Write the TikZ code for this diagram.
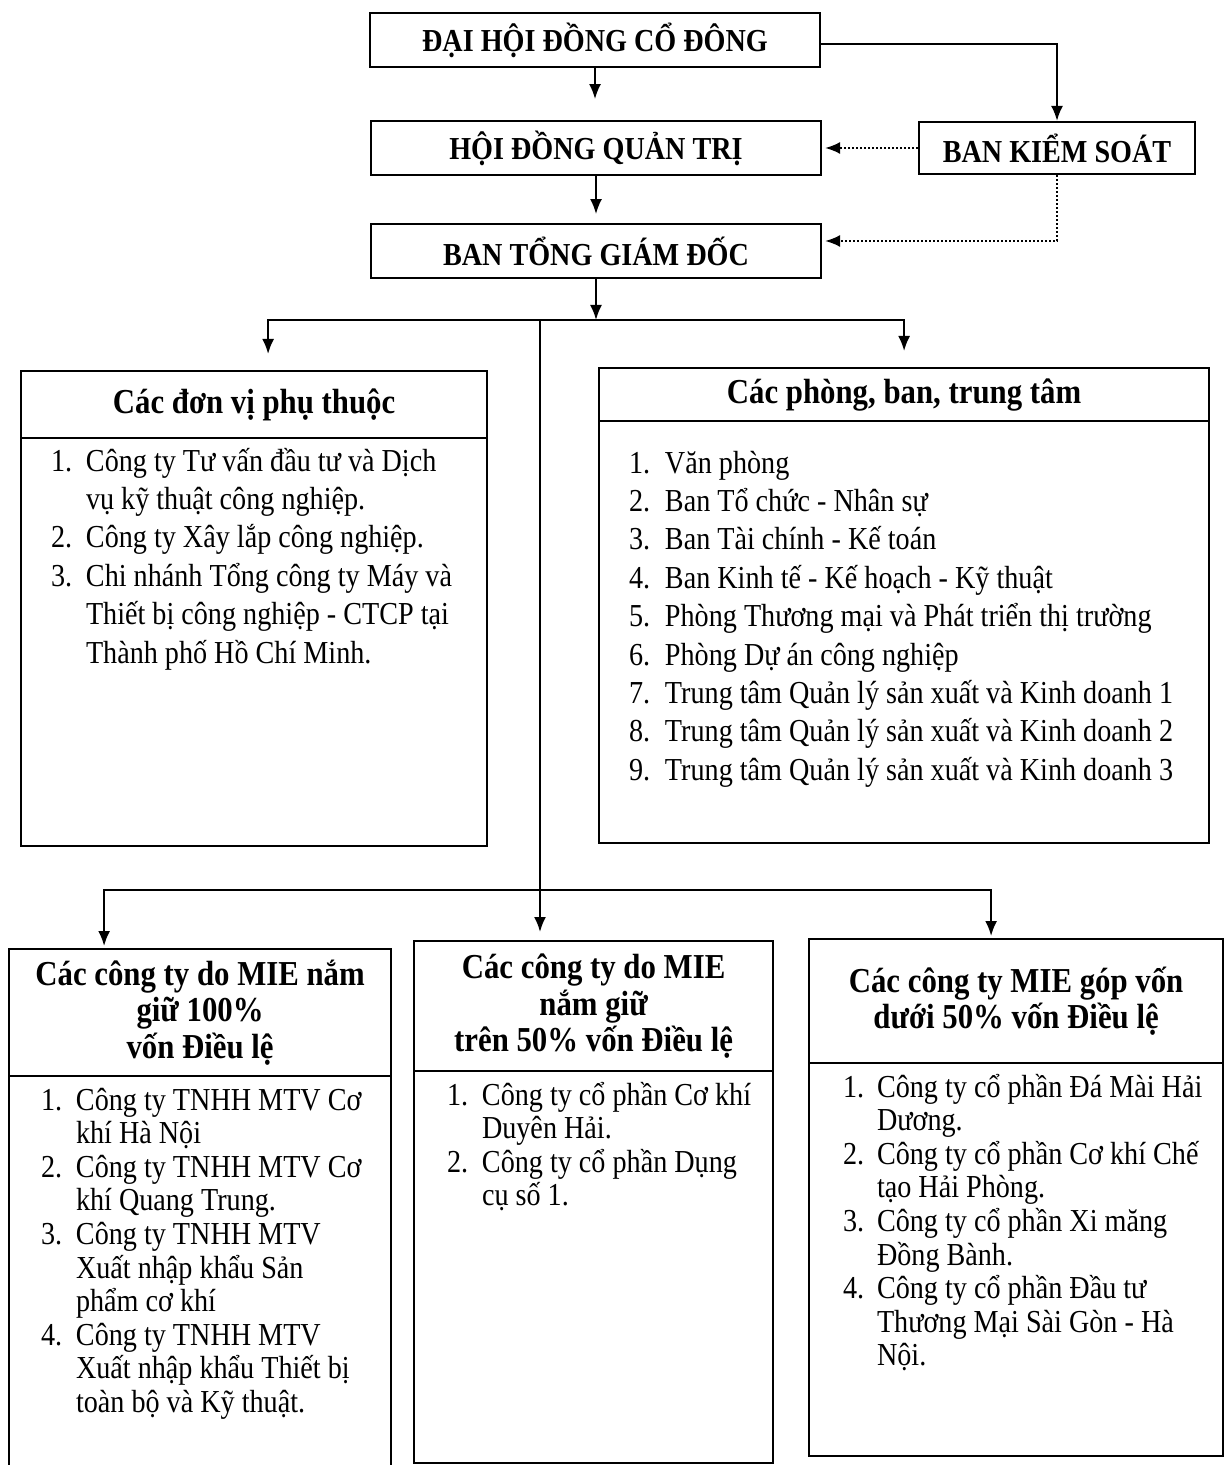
\documentclass[tikz,border=0pt]{standalone}
\usepackage{fontspec}
\setmainfont[FakeStretch=0.88]{Liberation Serif}
\usetikzlibrary{arrows.meta}

\begin{document}
\begin{tikzpicture}[x=0.5pt,y=-0.5pt,line width=1pt,
    >={Latex[length=7.5pt,width=6pt]},
    hop/.style={draw,line width=1.1pt,inner sep=0pt},
    tren/.style={hop,font=\fontsize{16}{18}\selectfont\bfseries,minimum height=27pt},
    tde/.style={hop,anchor=north west,align=center,font=\fontsize{17.5}{18.3}\selectfont\bfseries},
    than/.style={hop,anchor=north west},
    ds/.style={anchor=base west,inner sep=0pt,font=\fontsize{16}{19.2}\selectfont},
    dsn/.style={anchor=base west,inner sep=0pt,font=\fontsize{16}{16.8}\selectfont},
    ks/.style={dash pattern=on 1pt off 1pt,line width=1pt}]
\useasboundingbox (0,0) rectangle (1225,1465);

% khoi lanh dao
\node[tren,minimum width=225pt] (dhdcd) at (595,40) {ĐẠI HỘI ĐỒNG CỔ ĐÔNG};
\node[tren,minimum width=225pt] (hdqt) at (596,148) {HỘI ĐỒNG QUẢN TRỊ};
\node[tren,minimum width=138pt,minimum height=26pt] (bks) at (1057,148) {BAN KIỂM SOÁT};
\node[tren,minimum width=225pt] (btgd) at (596,251) {BAN TỔNG GIÁM ĐỐC};

\draw[->] (dhdcd.south) -- +(0,31);
\draw[->] ([yshift=-2pt]dhdcd.east) -| (bks.north);
\draw[->] (hdqt.south) -- +(0,38);
\draw[ks,->,shorten >=1.5pt] (bks.west) -- (hdqt.east);
\draw[ks,->,shorten >=1.5pt] (bks.south) |- ([yshift=5pt]btgd.east);

% don vi phu thuoc
\node[tde,minimum width=233pt,minimum height=33.5pt] (dvhead) at (20,370) {Các đơn vị phụ thuộc};
\node[than,minimum width=233pt,minimum height=204pt] (dvbody) at (20,437) {};
\node[ds] (dvlist) at (50,471) {\begin{tabular}[t]{@{}p{17.5pt}@{}l@{}}
1. & Công ty Tư vấn đầu tư và Dịch\\
   & vụ kỹ thuật công nghiệp.\\
2. & Công ty Xây lắp công nghiệp.\\
3. & Chi nhánh Tổng công ty Máy và\\
   & Thiết bị công nghiệp - CTCP tại\\
   & Thành phố Hồ Chí Minh.
\end{tabular}};

% phong ban
\node[tde,minimum width=305pt,minimum height=26.5pt] (pbhead) at (598,367) {Các phòng, ban, trung tâm};
\node[than,minimum width=305pt,minimum height=211pt] (pbbody) at (598,420) {};
\node[ds] (pblist) at (628,473) {\begin{tabular}[t]{@{}p{18pt}@{}l@{}}
1. & Văn phòng\\
2. & Ban Tổ chức - Nhân sự\\
3. & Ban Tài chính - Kế toán\\
4. & Ban Kinh tế - Kế hoạch - Kỹ thuật\\
5. & Phòng Thương mại và Phát triển thị trường\\
6. & Phòng Dự án công nghiệp\\
7. & Trung tâm Quản lý sản xuất và Kinh doanh 1\\
8. & Trung tâm Quản lý sản xuất và Kinh doanh 2\\
9. & Trung tâm Quản lý sản xuất và Kinh doanh 3
\end{tabular}};

% cong ty con
\node[tde,minimum width=191pt,minimum height=63.5pt] (c100head) at (8,948) {Các công ty do MIE nắm\\giữ 100\%\\vốn Điều lệ};
\node[than,minimum width=191pt,minimum height=196.5pt] (c100body) at (8,1075) {};
\node[dsn] (c100list) at (40,1110) {\begin{tabular}[t]{@{}p{17.5pt}@{}l@{}}
1. & Công ty TNHH MTV Cơ\\
   & khí Hà Nội\\
2. & Công ty TNHH MTV Cơ\\
   & khí Quang Trung.\\
3. & Công ty TNHH MTV\\
   & Xuất nhập khẩu Sản\\
   & phẩm cơ khí\\
4. & Công ty TNHH MTV\\
   & Xuất nhập khẩu Thiết bị\\
   & toàn bộ và Kỹ thuật.
\end{tabular}};

\node[tde,minimum width=179.5pt,minimum height=65pt] (c50head) at (413,940) {Các công ty do MIE\\nắm giữ\\trên 50\% vốn Điều lệ};
\node[than,minimum width=179.5pt,minimum height=196pt] (c50body) at (413,1070) {};
\node[dsn] (c50list) at (446,1105) {\begin{tabular}[t]{@{}p{17.5pt}@{}l@{}}
1. & Công ty cổ phần Cơ khí\\
   & Duyên Hải.\\
2. & Công ty cổ phần Dụng\\
   & cụ số 1.
\end{tabular}};

\node[tde,minimum width=207pt,minimum height=62pt] (cduoihead) at (808,938) {Các công ty MIE góp vốn\\dưới 50\% vốn Điều lệ};
\node[than,minimum width=207pt,minimum height=196.5pt] (cduoibody) at (808,1062) {};
\node[dsn] (cduoilist) at (842,1097) {\begin{tabular}[t]{@{}p{17pt}@{}l@{}}
1. & Công ty cổ phần Đá Mài Hải\\
   & Dương.\\
2. & Công ty cổ phần Cơ khí Chế\\
   & tạo Hải Phòng.\\
3. & Công ty cổ phần Xi măng\\
   & Đồng Bành.\\
4. & Công ty cổ phần Đầu tư\\
   & Thương Mại Sài Gòn - Hà\\
   & Nội.
\end{tabular}};

% duong noi
\coordinate (r1) at (540,320);
\coordinate (r2) at (540,890);
\draw[->] (btgd.south) -- (btgd.south |- r1);
\draw[->,shorten >=8pt] (r1) -| ([xshift=7pt]dvhead.north);
\draw[->,shorten >=8pt] (r1) -| (pbhead.north);
\draw[->,shorten >=4pt] (r1) -- (r1 |- c50head.north);
\draw[->,shorten >=1pt] (r2) -| ([xshift=-48pt]c100head.north);
\draw[->,shorten >=1pt] (r2) -| ([xshift=-12.5pt]cduoihead.north);
\end{tikzpicture}
\end{document}
